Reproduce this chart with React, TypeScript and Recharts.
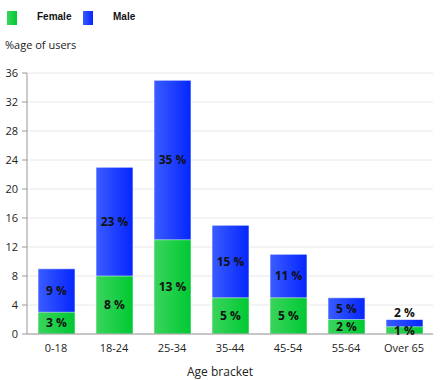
import React from 'react';
import { BarChart, Bar, XAxis, YAxis, CartesianGrid, Legend, LabelList } from 'recharts';

const brackets = ['0-18', '18-24', '25-34', '35-44', '45-54', '55-64', 'Over 65'];
const female = [3, 8, 13, 5, 5, 2, 1];
const male = [9, 23, 35, 15, 11, 5, 2];
const yTicks = [0, 4, 8, 12, 16, 20, 24, 28, 32, 36];

const data = brackets.map((b, i) => ({ bracket: b, female: female[i], male: male[i] }));

const FONT = '"Open Sans", "Noto Sans", sans-serif';

const FemaleLabel = (props: any) => {
  const { x, y, width, height, value } = props;
  return (
    <text x={x + width / 2} y={y + height / 2} dy="0.35em" textAnchor="middle"
      fontFamily={FONT} fontSize={12} fontWeight="bold" fill="#111">
      {value} %
    </text>
  );
};

// male bar sits behind the female one, so centre the label in the part that shows
const MaleLabel = (props: any) => {
  const { x, y, width, height, value, index } = props;
  const f = female[index];
  const perUnit = height / value;
  const visible = height - f * perUnit;
  const cy = visible < 14 ? y - 7 : y + visible / 2;
  return (
    <text x={x + width / 2} y={cy} dy="0.35em" textAnchor="middle"
      fontFamily={FONT} fontSize={12} fontWeight="bold" fill="#111">
      {value} %
    </text>
  );
};

const LegendBox = () => (
  <div style={{ position: 'relative', height: 30, fontFamily: '"Liberation Sans", Arial, sans-serif', fontSize: 10, fontWeight: 'bold', color: '#111' }}>
    <span style={{ position: 'absolute', left: 7, top: 11, width: 10, height: 14, background: 'linear-gradient(to right, #3ad45c, #00c933)' }} />
    <span style={{ position: 'absolute', left: 37, top: 11 }}>Female</span>
    <span style={{ position: 'absolute', left: 83, top: 11, width: 10, height: 14, background: 'linear-gradient(to right, #3a5cff, #0526ff)' }} />
    <span style={{ position: 'absolute', left: 113, top: 11 }}>Male</span>
  </div>
);

export default function App() {
  return (
    <div style={{ position: 'fixed', left: 0, top: 0, width: 446, height: 380, background: '#fff' }}>
      <div style={{ position: 'absolute', left: 5, top: 37, fontFamily: FONT, fontSize: 11, color: '#222' }}>
        %age of users
      </div>
      <BarChart width={446} height={380} data={data}
        margin={{ top: 43, right: 13, bottom: 0, left: 0 }}>
        <defs>
          <linearGradient id="gFemale" x1="0" y1="0" x2="1" y2="0">
            <stop offset="0%" stopColor="#3ad45c" />
            <stop offset="100%" stopColor="#00c933" />
          </linearGradient>
          <linearGradient id="gMale" x1="0" y1="0" x2="1" y2="0">
            <stop offset="0%" stopColor="#3a5cff" />
            <stop offset="100%" stopColor="#0526ff" />
          </linearGradient>
        </defs>
        <CartesianGrid vertical={false} stroke="#e8e8e8" />
        <XAxis xAxisId="back" dataKey="bracket" hide height={0} />
        <XAxis xAxisId="front" dataKey="bracket" tickLine={false} stroke="#999" height={46}
          tick={{ fontFamily: FONT, fontSize: 11, fill: '#222' }} tickMargin={4}
          label={{ value: 'Age bracket', position: 'insideBottom', offset: 4, dx: -10, fontFamily: FONT, fontSize: 12, fill: '#222' }} />
        <YAxis domain={[0, 36]} ticks={yTicks} width={27} stroke="#999" tickSize={5} tickMargin={4}
          tick={{ fontFamily: FONT, fontSize: 11, fill: '#222' }} interval={0} />
        <Legend verticalAlign="top" content={<LegendBox />}
          wrapperStyle={{ position: 'absolute', top: 0, left: 0, width: 446 }} />
        <Bar xAxisId="back" dataKey="male" name="Male" barSize={37} fill="url(#gMale)"
          stroke="rgba(255,255,255,0.6)" isAnimationActive={false}>
          <LabelList dataKey="male" content={<MaleLabel />} />
        </Bar>
        <Bar xAxisId="front" dataKey="female" name="Female" barSize={37} fill="url(#gFemale)"
          stroke="rgba(255,255,255,0.5)" isAnimationActive={false}>
          <LabelList dataKey="female" content={<FemaleLabel />} />
        </Bar>
      </BarChart>
    </div>
  );
}
